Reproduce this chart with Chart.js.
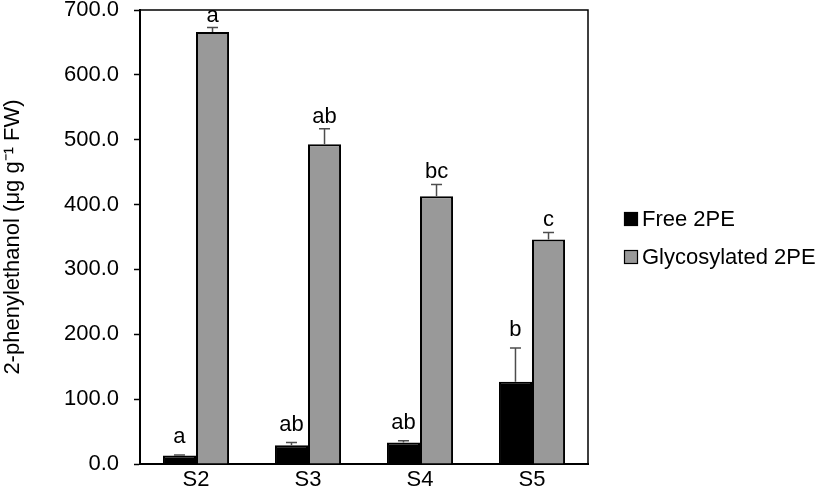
<!DOCTYPE html>
<html>
<head>
<meta charset="utf-8">
<script src="https://cdn.jsdelivr.net/npm/chart.js@4"></script>
<style>
  html, body { margin: 0; padding: 0; background: #fff; }
  #wrap { width: 816px; height: 488px; }
</style>
</head>
<body>
<div id="wrap"><canvas id="phenylChart" width="816" height="488"></canvas></div>
<script>
// Datos
const categories = ['S2', 'S3', 'S4', 'S5'];
const freeValues = [13, 29, 33, 127];
const freeErrors = [1, 4, 3, 52];
const glycoValues = [666, 493, 413, 346];
const glycoErrors = [7, 24, 18, 11];
const freeLetters = ['a', 'ab', 'ab', 'b'];
const glycoLetters = ['a', 'ab', 'bc', 'c'];
const yTicks = [0, 100, 200, 300, 400, 500, 600, 700];

const FONT = 'Liberation Sans, Arial, sans-serif';

// Barras de error, letras, marco y leyenda
const extras = {
    id: 'extras',
    afterDatasetsDraw(chart) {
        const ctx = chart.ctx;
        const y = chart.scales.y;
        const area = chart.chartArea;
        const errs = [freeErrors, glycoErrors];
        const letters = [freeLetters, glycoLetters];
        const gaps = [12, 6]; // separacion de la letra sobre la barra de error

        ctx.save();
        chart.data.datasets.forEach(function(ds, i) {
            const meta = chart.getDatasetMeta(i);
            meta.data.forEach(function(bar, j) {
                const top = y.getPixelForValue(ds.data[j] + errs[i][j]);
                const base = y.getPixelForValue(ds.data[j]);
                ctx.strokeStyle = '#4d4d4d';
                ctx.lineWidth = 1.5;
                ctx.beginPath();
                ctx.moveTo(bar.x, base);
                ctx.lineTo(bar.x, top);
                ctx.moveTo(bar.x - 5.5, top);
                ctx.lineTo(bar.x + 5.5, top);
                ctx.stroke();

                ctx.fillStyle = '#000';
                ctx.font = '22px ' + FONT;
                ctx.textAlign = 'center';
                ctx.textBaseline = 'alphabetic';
                ctx.fillText(letters[i][j], bar.x, top - gaps[i]);
            });
        });

        // marco superior y derecho
        ctx.strokeStyle = '#000';
        ctx.lineWidth = 1.5;
        ctx.beginPath();
        ctx.moveTo(area.left, area.top);
        ctx.lineTo(area.right, area.top);
        ctx.lineTo(area.right, area.bottom);
        ctx.stroke();

        // leyenda
        const rows = [219, 257];
        chart.data.datasets.forEach(function(ds, i) {
            ctx.fillStyle = ds.backgroundColor;
            ctx.fillRect(624.5, rows[i] - 6.5, 13, 13);
            ctx.strokeStyle = '#000';
            ctx.lineWidth = 1.2;
            ctx.strokeRect(624.5, rows[i] - 6.5, 13, 13);
            ctx.fillStyle = '#000';
            ctx.font = '22px ' + FONT;
            ctx.textAlign = 'left';
            ctx.textBaseline = 'middle';
            ctx.fillText(ds.label, 642, rows[i] + 1);
        });
        ctx.restore();
    }
};

const ctxPhenyl = document.getElementById('phenylChart').getContext('2d');
const phenylChart = new Chart(ctxPhenyl, {
    type: 'bar',
    data: {
        labels: categories,
        datasets: [{
            label: 'Free 2PE',
            data: freeValues,
            backgroundColor: '#000000',
            borderColor: '#000000',
            borderWidth: 2,
            categoryPercentage: 0.59,
            barPercentage: 1.0
        }, {
            label: 'Glycosylated 2PE',
            data: glycoValues,
            backgroundColor: '#999999',
            borderColor: '#000000',
            borderWidth: 2,
            categoryPercentage: 0.59,
            barPercentage: 1.0
        }]
    },
    options: {
        responsive: false,
        animation: false,
        devicePixelRatio: 1,
        layout: { padding: { top: 10, right: 228, bottom: 0, left: 0 } },
        plugins: {
            legend: { display: false },
            tooltip: { enabled: false }
        },
        scales: {
            x: {
                grid: { display: false, drawTicks: false, tickLength: 0 },
                border: { display: true, color: '#000', width: 2 },
                ticks: { color: '#000', font: { family: FONT, size: 22 }, padding: 3 },
                afterFit: function(scale) {
                    scale.height = 24;
                    scale.paddingLeft = 0;
                    scale.paddingRight = 0;
                }
            },
            y: {
                min: 0,
                max: 700,
                afterBuildTicks: function(scale) {
                    scale.ticks = yTicks.map(function(v) { return { value: v }; });
                },
                grid: { drawOnChartArea: false, drawTicks: true, tickLength: 6, tickColor: '#000', tickWidth: 1.5 },
                border: { display: true, color: '#000', width: 2 },
                ticks: {
                    color: '#000',
                    font: { family: FONT, size: 22 },
                    padding: 15,
                    callback: function(v) { return Number(v).toFixed(1); }
                },
                title: {
                    display: true,
                    text: '2-phenylethanol (μg g⁻¹ FW)',
                    color: '#000',
                    font: { family: FONT, size: 22 },
                    padding: 0
                },
                afterFit: function(scale) {
                    scale.width = 140;
                    scale.paddingTop = 0;
                    scale.paddingBottom = 0;
                }
            }
        }
    },
    plugins: [extras]
});
</script>
</body>
</html>
